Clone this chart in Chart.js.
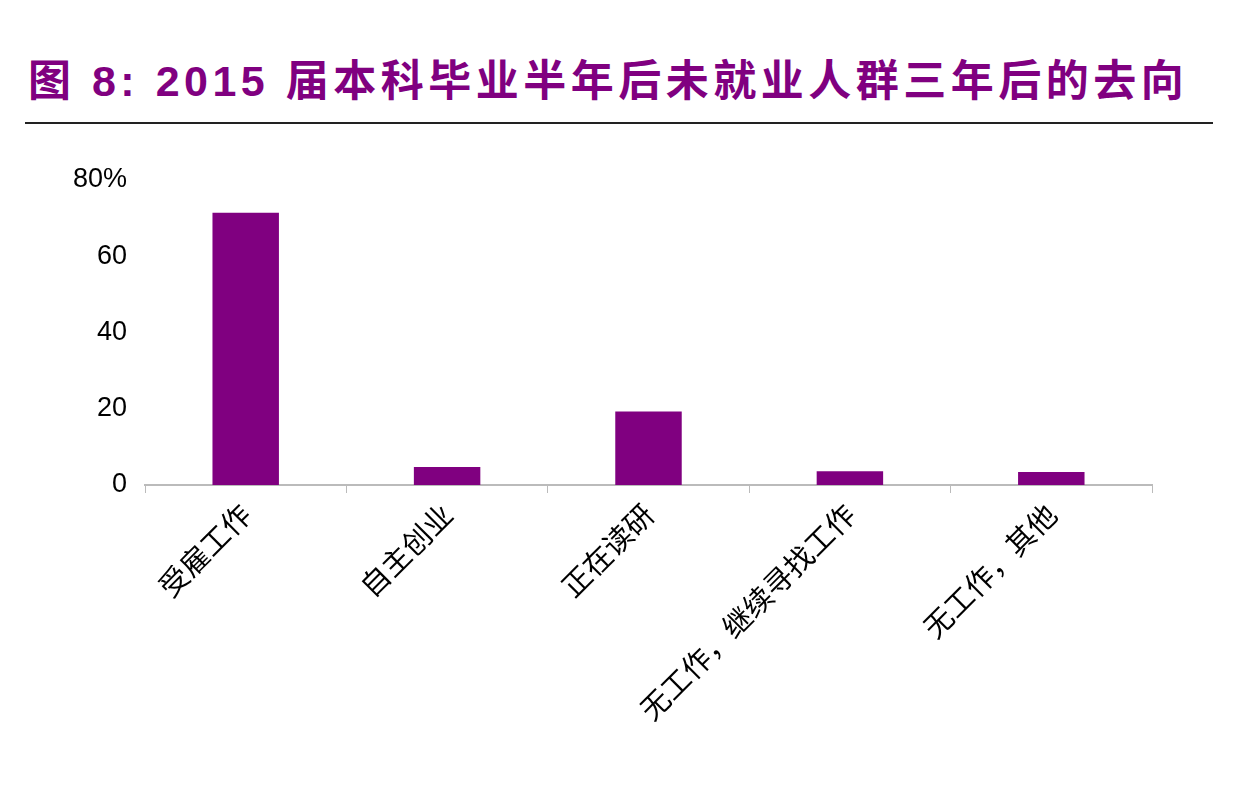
<!DOCTYPE html>
<html><head><meta charset="utf-8">
<script src="https://cdn.jsdelivr.net/npm/chart.js@4"></script>
<style>
body{margin:0;width:1236px;height:806px;background:#fff;position:relative;overflow:hidden;font-family:"Noto Sans CJK SC",sans-serif}
#t{position:absolute;left:28px;top:46px;font-size:43px;font-weight:bold;color:#800080;white-space:nowrap;letter-spacing:4.5px;font-family:"Liberation Sans","Noto Sans CJK SC",sans-serif}
#l{position:absolute;left:25px;top:122px;width:1188px;height:2px;background:#222}
#c{position:absolute;left:0;top:0}
</style></head><body>
<div id="t">图 8: 2015 届本科毕业半年后未就业人群三年后的去向</div>
<div id="l"></div>
<canvas id="c" width="1236" height="806"></canvas>
<script>
const categories=["受雇工作","自主创业","正在读研","无工作，继续寻找工作","无工作，其他"];
const values=[71.4,4.7,19.3,3.6,3.4];
const yTicks=[0,20,40,60,80];
new Chart(document.getElementById('c'),{
type:'bar',
data:{labels:categories,datasets:[{data:values,backgroundColor:'#800080',barPercentage:0.33,categoryPercentage:1}]},
options:{responsive:false,animation:false,
layout:{padding:{top:180,left:0,right:84,bottom:0}},
plugins:{legend:{display:false},tooltip:{enabled:false}},
scales:{
x:{offset:true,grid:{display:true,drawOnChartArea:false,tickLength:8,color:'#bbb',offset:true},border:{color:'#bbb',width:2},
ticks:{minRotation:45,maxRotation:45,color:'#000',font:{size:29,family:'"Noto Sans CJK SC"'},padding:4},
afterFit:s=>{s.height=321;}},
y:{min:0,max:80,grid:{display:false},border:{display:false},
afterBuildTicks:s=>{s.ticks=yTicks.map(v=>({value:v}));},
ticks:{color:'#000',font:{size:27,family:'"Liberation Sans"'},padding:10,callback:v=>v===80?'80%':v},
afterFit:s=>{s.width=145;}}
}}});
</script></body></html>
